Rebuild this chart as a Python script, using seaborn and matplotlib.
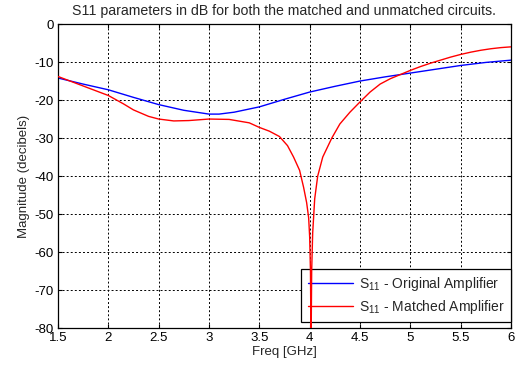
import matplotlib
matplotlib.use("Agg")
import matplotlib.pyplot as plt
import seaborn as sns
import pandas as pd

# S11 of the original (unmatched) amplifier
freq_orig = [1.5, 1.75, 2.0, 2.25, 2.5, 2.75, 3.0, 3.1, 3.25, 3.5, 3.75, 4.0,
             4.25, 4.5, 4.75, 5.0, 5.25, 5.5, 5.75, 6.0]
s11_orig = [-14.2, -15.8, -17.3, -19.3, -21.2, -22.7, -23.7, -23.7, -23.2, -21.8,
            -19.8, -17.9, -16.4, -15.0, -13.9, -12.9, -11.9, -10.9, -10.1, -9.5]

# S11 of the matched amplifier
freq_match = [1.5, 1.75, 2.0, 2.15, 2.25, 2.4, 2.5, 2.65, 2.8, 3.0, 3.2, 3.4,
              3.5, 3.6, 3.7, 3.78, 3.84, 3.9, 3.94, 3.97, 3.99, 4.0, 4.008,
              4.014, 4.02, 4.03, 4.05, 4.08, 4.13, 4.22, 4.3, 4.4, 4.5, 4.6,
              4.7, 4.8, 4.9, 5.0, 5.1, 5.2, 5.3, 5.4, 5.5, 5.6, 5.7, 5.8, 5.9,
              6.0]
s11_match = [-13.8, -16.3, -18.8, -21.0, -22.6, -24.3, -25.0, -25.5, -25.4, -25.0,
             -25.1, -26.0, -27.2, -28.2, -29.6, -32.0, -35.0, -38.5, -43.0, -47.0,
             -51.0, -56.0, -65.0, -85.0, -65.0, -55.0, -46.0, -40.0, -35.0, -30.0,
             -26.3, -23.2, -20.5, -17.9, -15.8, -14.4, -13.3, -12.2, -11.2, -10.3,
             -9.5, -8.7, -8.0, -7.4, -6.9, -6.5, -6.2, -6.0]

x_ticks = [1.5, 2, 2.5, 3, 3.5, 4, 4.5, 5, 5.5, 6]
x_tick_labels = ["1.5", "2", "2.5", "3", "3.5", "4", "4.5", "5", "5.5", "6"]
y_ticks = [-80, -70, -60, -50, -40, -30, -20, -10, 0]

sns.set_theme(style="white")
plt.rcParams["font.family"] = ["Liberation Sans", "DejaVu Sans"]
plt.rcParams["mathtext.fontset"] = "custom"
plt.rcParams["mathtext.rm"] = "Liberation Sans"
plt.rcParams["mathtext.it"] = "Liberation Sans"
plt.rcParams["axes.unicode_minus"] = False

df_orig = pd.DataFrame({"freq": freq_orig, "s11": s11_orig})
df_match = pd.DataFrame({"freq": freq_match, "s11": s11_match})

fig = plt.figure(figsize=(5.2, 3.7), dpi=100)
ax = fig.add_axes([0.1115, 0.1135, 0.8712, 0.8215])

sns.lineplot(data=df_orig, x="freq", y="s11", ax=ax, color="#0000ff", lw=1.0,
             sort=False, label=r"S$_{11}$ - Original Amplifier")
sns.lineplot(data=df_match, x="freq", y="s11", ax=ax, color="#ff0000", lw=1.0,
             sort=False, label=r"S$_{11}$ - Matched Amplifier", zorder=6)

ax.set_xlim(1.5, 6)
ax.set_ylim(-80, 0)
ax.set_xticks(x_ticks)
ax.set_xticklabels(x_tick_labels)
ax.set_yticks(y_ticks)

ax.grid(True, color="black", linestyle=(0, (2, 2.2)), linewidth=0.7)
ax.tick_params(direction="in", length=3, width=0.8, colors="black",
               labelsize=9.5, top=True, right=True, bottom=True, left=True,
               pad=3)
for sp in ax.spines.values():
    sp.set_color("black")
    sp.set_linewidth(0.9)

ax.set_title("S11 parameters in dB for both the matched and unmatched circuits.",
             fontsize=10.2, pad=6.5)
ax.set_xlabel("Freq [GHz]", fontsize=9.5, labelpad=1.5)
ax.set_ylabel("Magnitude (decibels)", fontsize=9.5, labelpad=3)

leg = ax.legend(loc="lower right", bbox_to_anchor=(1.0, 0.02), borderaxespad=0,
                fontsize=10, frameon=True, fancybox=False, handlelength=3.3,
                borderpad=0.45, labelspacing=0.32, handletextpad=0.4)
leg.get_frame().set_edgecolor("black")
leg.get_frame().set_linewidth(0.9)
leg.get_frame().set_alpha(1)

fig.savefig("out.png", dpi=100, facecolor="white")
